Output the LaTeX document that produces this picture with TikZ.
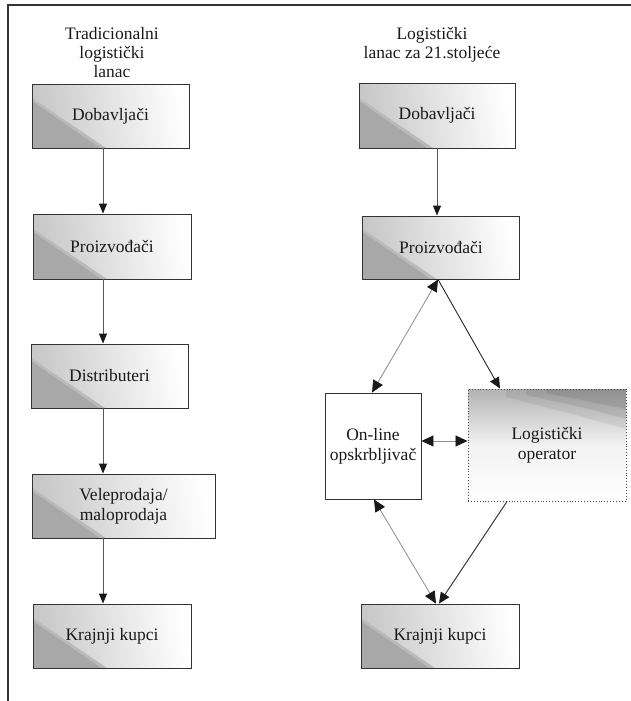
\documentclass[tikz,border=0pt]{standalone}
\usepackage{fontspec}
\setmainfont{Liberation Serif}
\usetikzlibrary{arrows.meta,calc}
\begin{document}
\begin{tikzpicture}[x=1pt,y=-1pt,
  every node/.style={font=\fontsize{17.5}{20}\selectfont, text=black!90},
  chainbox/.style={draw=black!80, line width=0.9pt, minimum height=64pt, inner sep=0pt, align=center,
    left color=black!22, right color=white, shading angle=100,
    path picture={
      \fill[black!27] (path picture bounding box.south west) -- ++(0,-50) -- ++(74,50) -- cycle;
      \fill[black!34] (path picture bounding box.south west) -- ++(0,-47) -- ++(68,47) -- cycle;}},
  plainbox/.style={draw=black!80, line width=0.9pt, fill=white, inner sep=0pt, align=center},
  opbox/.style={draw=black!70, dotted, line width=0.9pt, inner sep=0pt, align=center,
    top color=black!30, bottom color=white, middle color=white!95!black,
    path picture={
      \fill[black, opacity=0.06] (path picture bounding box.north east) -- ++(0,40) -- ++(-50,-14) -- ++(-70,-18) -- ++(0,-8) -- cycle;
      \fill[black, opacity=0.07] (path picture bounding box.north east) -- ++(0,30) -- ++(-45,-12) -- ++(-55,-12) -- ++(0,-6) -- cycle;
      \fill[black, opacity=0.07] (path picture bounding box.north east) -- ++(0,20) -- ++(-40,-8) -- ++(-40,-8) -- ++(0,-4) -- cycle;}},
  flow/.style={-{Triangle[length=10pt,width=8pt,color=black!90]}, draw=black!65, line width=1pt},
  flowk/.style={-{Triangle[length=11pt,width=10pt,color=black!90]}, draw=black!85, line width=0.9pt},
  biflow/.style={{Triangle[length=12pt,width=11pt,color=black!90]}-{Triangle[length=12pt,width=11pt,color=black!90]}, draw=black!45, line width=0.8pt},
  title/.style={align=center, anchor=north, inner sep=0pt, font=\fontsize{17.5}{19}\selectfont}
]
\useasboundingbox (0,0) rectangle (631,701);
% frame
\draw[black!80, line width=1.3pt] (8,701) -- (8,5) -- (631,5);

% titles
\node[title] (t1) at (112,27) {Tradicionalni\\logistički\\lanac};
\node[title] (t2) at (432,27) {Logistički\\lanac za 21.stoljeće};

% left column
\node[chainbox, minimum width=157pt] (L1) at (110.5,116) {Dobavljači};
\node[chainbox, minimum width=158pt, minimum height=65pt] (L2) at (112,246.5) {Proizvođači};
\node[chainbox, minimum width=157pt] (L3) at (109.5,376) {Distributeri};
\node[chainbox, minimum width=183pt] (L4) at (123.5,506) {Veleprodaja/\\maloprodaja};
\node[chainbox, minimum width=158pt] (L5) at (112,636) {Krajnji kupci};

% right column
\node[chainbox, minimum width=156pt, minimum height=65pt] (R1) at (437,115.5) {Dobavljači};
\node[chainbox, minimum width=157pt, minimum height=63pt] (R2) at (441,247.5) {Proizvođači};
\node[plainbox, minimum width=96pt, minimum height=106pt] (ON) at (373,446) {On-line\\opskrbljivač};
\node[opbox, minimum width=158pt, minimum height=112pt] (OP) at (547,445) {Logistički\\operator};
\node[chainbox, minimum width=158pt] (R5) at (440,636) {Krajnji kupci};

% helper coordinates
\coordinate (lx) at (103,0);
\coordinate (rx) at (437,0);
\coordinate (hx) at (438,0);
\coordinate (opx) at (500,0);
\coordinate (onx) at (372,0);
\coordinate (my) at (0,441);
\coordinate (onbx) at (374,0);
\coordinate (opbx) at (507,0);
\coordinate (k1) at (436,0);
\coordinate (k2) at (439,0);

% left arrows
\draw[flow] (L1.south -| lx) -- (L2.north -| lx);
\draw[flow] (L2.south -| lx) -- (L3.north -| lx);
\draw[flow] (L3.south -| lx) -- (L4.north -| lx);
\draw[flow] (L4.south -| lx) -- (L5.north -| lx);

% right arrows
\draw[flow] (R1.south -| rx) -- (R2.north -| rx);
\draw[flowk] (R2.south -| hx) -- (OP.north -| opx);
\draw[biflow] (R2.south -| hx) -- (ON.north -| onx);
\draw[biflow] (ON.east |- my) -- (OP.west |- my);
\draw[biflow] (ON.south -| onbx) -- (R5.north -| k1);
\draw[flowk] (OP.south -| opbx) -- (R5.north -| k2);
\end{tikzpicture}
\end{document}
